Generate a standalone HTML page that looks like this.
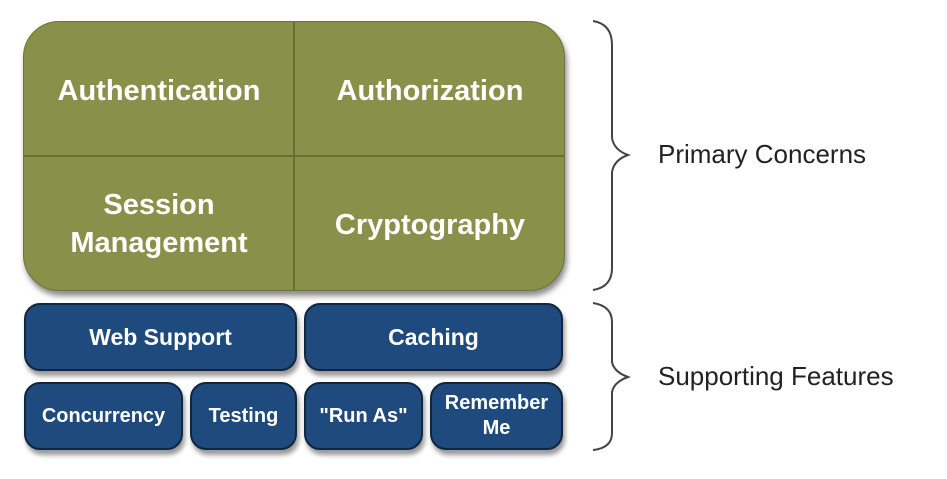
<!DOCTYPE html>
<html><head><meta charset="utf-8"><style>
html,body{margin:0;padding:0;background:#fff;}
body{width:947px;height:479px;position:relative;overflow:hidden;font-family:"Liberation Sans",Arial,sans-serif;}
.g{position:absolute;left:23px;top:21px;width:542px;height:270px;background:#87914a;border:1px solid #6c7537;border-radius:36px;box-shadow:2px 5px 6px rgba(0,0,0,0.45);box-sizing:border-box;overflow:hidden;}
.vl{position:absolute;left:269px;top:0;width:2px;height:100%;background:#66702f;}
.hl{position:absolute;left:0;top:133px;width:100%;height:2px;background:#66702f;}
.gt{position:absolute;color:#fff;font-weight:bold;font-size:29px;text-align:center;line-height:38px;}
.b{position:absolute;background:#1e4a7e;border:2px solid #0f2740;border-radius:16px;box-sizing:border-box;color:#fff;font-weight:bold;display:flex;align-items:center;justify-content:center;text-align:center;box-shadow:2px 5px 5px rgba(0,0,0,0.4);}
.lab{position:absolute;font-size:26px;color:#222;}
</style></head><body>
<div class="g">
<div class="vl"></div><div class="hl"></div>
<div class="gt" style="left:0;width:270px;top:50px;">Authentication</div>
<div class="gt" style="left:271px;width:270px;top:50px;">Authorization</div>
<div class="gt" style="left:0;width:270px;top:164px;">Session<br>Management</div>
<div class="gt" style="left:271px;width:270px;top:184px;">Cryptography</div>
</div>
<div class="b" style="left:24px;top:303px;width:273px;height:68px;font-size:23px;">Web Support</div>
<div class="b" style="left:304px;top:303px;width:259px;height:68px;font-size:23px;">Caching</div>
<div class="b" style="left:24px;top:382px;width:159px;height:68px;font-size:20px;">Concurrency</div>
<div class="b" style="left:190px;top:382px;width:107px;height:68px;font-size:20px;">Testing</div>
<div class="b" style="left:304px;top:382px;width:119px;height:68px;font-size:20px;">"Run As"</div>
<div class="b" style="left:430px;top:382px;width:133px;height:68px;font-size:20px;line-height:25px;">Remember<br>Me</div>
<svg style="position:absolute;left:0;top:0" width="947" height="479">
<g fill="none" stroke="#444" stroke-width="2">
<path d="M593 21 Q612 24 612 45 L612 138 Q614 150 628 155 Q614 160 612 172 L612 268 Q612 287 593 290"/>
<path d="M593 303 Q612 306 612 322 L612 362 Q614 372 628 377 Q614 382 612 392 L612 433 Q612 448 593 450"/>
</g></svg>
<div class="lab" style="left:658px;top:139px;">Primary Concerns</div>
<div class="lab" style="left:658px;top:361px;">Supporting Features</div>
</body></html>
